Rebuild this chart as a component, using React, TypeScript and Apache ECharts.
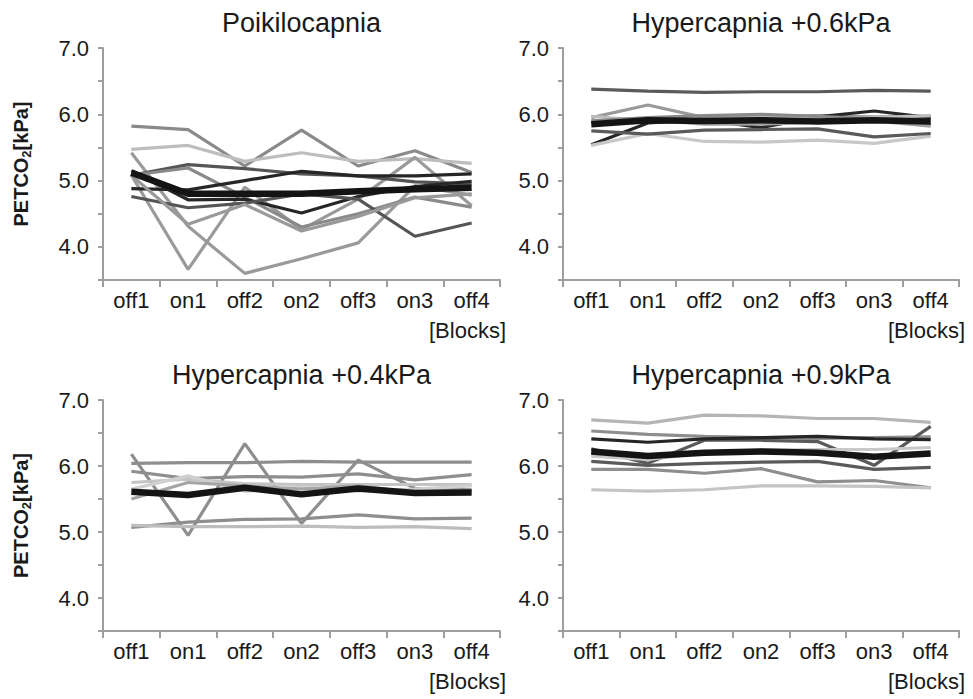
import React, { useEffect, useRef } from "react";
import * as echarts from "echarts";

const categories = ["off1", "on1", "off2", "on2", "off3", "on3", "off4"];
const yTickLabels = ["4.0", "5.0", "6.0", "7.0"];
const panelTitles = ["Poikilocapnia", "Hypercapnia +0.6kPa", "Hypercapnia +0.4kPa", "Hypercapnia +0.9kPa"];
const yAxisName = "PETCO{sub|2}[kPa]";
const xAxisName = "[Blocks]";

// Panel 1: Poikilocapnia
const poikiloSubjects = [
  [5.82, 5.77, 5.22, 5.76, 5.22, 5.45, 5.12],
  [5.47, 5.53, 5.29, 5.42, 5.29, 5.33, 5.26],
  [5.42, 4.31, 3.6, 3.82, 4.06, 4.92, 4.78],
  [5.08, 3.66, 4.9, 4.26, 4.72, 5.35, 4.62],
  [5.08, 5.24, 5.18, 5.1, 5.07, 4.98, 4.95],
  [5.08, 5.19, 4.75, 4.3, 4.5, 4.75, 4.6],
  [4.88, 4.86, 5.0, 5.14, 5.07, 5.07, 5.1],
  [5.15, 4.71, 4.72, 4.51, 4.76, 4.91, 4.99],
  [4.76, 4.59, 4.66, 4.8, 4.72, 4.16, 4.36],
  [5.08, 4.34, 4.64, 4.24, 4.46, 4.74, 4.8],
];
const poikiloMean = [5.12, 4.8, 4.8, 4.8, 4.84, 4.87, 4.89];

// Panel 2: Hypercapnia +0.6kPa
const hyper06Subjects = [
  [6.38, 6.35, 6.33, 6.34, 6.34, 6.36, 6.35],
  [5.95, 6.14, 5.95, 5.97, 5.98, 5.96, 5.97],
  [5.54, 5.87, 5.92, 5.8, 5.96, 6.05, 5.95],
  [5.53, 5.71, 5.59, 5.58, 5.61, 5.56, 5.67],
  [5.75, 5.7, 5.76, 5.77, 5.78, 5.66, 5.71],
  [5.97, 5.9, 5.92, 5.95, 5.93, 5.95, 5.98],
  [5.9, 5.95, 5.98, 6.0, 5.97, 5.93, 5.85],
  [5.88, 5.92, 5.85, 5.85, 5.88, 5.9, 5.82],
];
const hyper06Mean = [5.85, 5.91, 5.9, 5.91, 5.89, 5.91, 5.89];

// Panel 3: Hypercapnia +0.4kPa
const hyper04Subjects = [
  [6.18, 4.95, 6.34, 5.13, 6.09, 5.66, 5.64],
  [6.04, 6.05, 6.05, 6.07, 6.06, 6.06, 6.06],
  [5.92, 5.81, 5.84, 5.83, 5.88, 5.79, 5.87],
  [5.75, 5.8, 5.73, 5.72, 5.72, 5.72, 5.72],
  [5.65, 5.85, 5.62, 5.68, 5.62, 5.65, 5.7],
  [5.5, 5.75, 5.7, 5.65, 5.7, 5.6, 5.62],
  [5.07, 5.15, 5.19, 5.2, 5.26, 5.2, 5.21],
  [5.1, 5.08, 5.08, 5.09, 5.07, 5.08, 5.05],
];
const hyper04Mean = [5.61, 5.56, 5.67, 5.57, 5.66, 5.59, 5.6];

// Panel 4: Hypercapnia +0.9kPa
const hyper09Subjects = [
  [6.7, 6.65, 6.77, 6.76, 6.72, 6.72, 6.66],
  [6.53, 6.48, 6.45, 6.43, 6.42, 6.43, 6.44],
  [6.26, 6.04, 6.39, 6.39, 6.37, 6.01, 6.6],
  [6.41, 6.36, 6.41, 6.43, 6.45, 6.41, 6.4],
  [6.15, 6.1, 6.2, 6.24, 6.25, 6.25, 6.28],
  [6.07, 6.01, 6.04, 6.06, 6.07, 5.95, 5.98],
  [5.95, 5.95, 5.89, 5.96, 5.76, 5.78, 5.67],
  [5.64, 5.62, 5.64, 5.7, 5.7, 5.69, 5.67],
];
const hyper09Mean = [6.22, 6.15, 6.2, 6.22, 6.2, 6.14, 6.19];

const panelSubjects = [poikiloSubjects, hyper06Subjects, hyper04Subjects, hyper09Subjects];
const panelMeans = [poikiloMean, hyper06Mean, hyper04Mean, hyper09Mean];

const subjectColors = [
  ["#8a8a8a", "#bdbdbd", "#9a9a9a", "#9a9a9a", "#555555", "#8a8a8a", "#262626", "#262626", "#555555", "#9a9a9a"],
  ["#5a5a5a", "#9a9a9a", "#262626", "#c8c8c8", "#5a5a5a", "#bdbdbd", "#8a8a8a", "#a0a0a0"],
  ["#8e8e8e", "#8e8e8e", "#8e8e8e", "#c4c4c4", "#d0d0d0", "#a5a5a5", "#8e8e8e", "#bdbdbd"],
  ["#b5b5b5", "#8e8e8e", "#5a5a5a", "#262626", "#c8c8c8", "#5a5a5a", "#8e8e8e", "#c4c4c4"],
];

const FONT = "'Liberation Sans', Arial, Helvetica, sans-serif";
const AXIS_COLOR = "#9e9e9e";
const TEXT_COLOR = "#1a1a1a";

const grids = [
  { left: 103, top: 48, width: 397, height: 232 },
  { left: 563, top: 48, width: 396, height: 232 },
  { left: 103, top: 400, width: 397, height: 231 },
  { left: 563, top: 400, width: 396, height: 231 },
];

export default function App() {
  const ref = useRef<HTMLDivElement>(null);

  useEffect(() => {
    if (!ref.current) return;
    const chart = echarts.init(ref.current, undefined, { renderer: "svg" });

    const series: any[] = [];
    panelSubjects.forEach((subs, p) => {
      subs.forEach((data, i) => {
        series.push({
          type: "line",
          xAxisIndex: p,
          yAxisIndex: p,
          data,
          symbol: "none",
          silent: true,
          lineStyle: { color: subjectColors[p][i], width: 3.2 },
          z: 2,
        });
      });
      series.push({
        type: "line",
        xAxisIndex: p,
        yAxisIndex: p,
        data: panelMeans[p],
        symbol: "none",
        silent: true,
        lineStyle: { color: "#141414", width: 6.5 },
        z: 3,
      });
    });

    const graphic: any[] = [];
    grids.forEach((g, p) => {
      graphic.push({
        type: "text",
        x: g.left + g.width / 2,
        y: g.top - 25,
        style: {
          text: panelTitles[p],
          font: `27px ${FONT}`,
          fill: TEXT_COLOR,
          align: "center",
          verticalAlign: "middle",
        },
      });
      graphic.push({
        type: "text",
        x: g.left + g.width + 6,
        y: g.top + g.height + 50,
        style: {
          text: xAxisName,
          font: `22px ${FONT}`,
          fill: TEXT_COLOR,
          align: "right",
          verticalAlign: "middle",
        },
      });
    });

    const option: any = {
      animation: false,
      grid: grids.map((g) => ({ ...g, outerBoundsMode: "none" })),
      xAxis: grids.map((_, p) => ({
        type: "category",
        gridIndex: p,
        data: categories,
        boundaryGap: true,
        axisLine: { lineStyle: { color: AXIS_COLOR, width: 2 } },
        axisTick: { show: true, length: 7, lineStyle: { color: AXIS_COLOR, width: 2 } },
        axisLabel: { color: TEXT_COLOR, fontSize: 22, fontFamily: FONT, margin: 9, interval: 0 },
        splitLine: { show: false },
      })),
      yAxis: grids.map((_, p) => ({
        type: "value",
        gridIndex: p,
        min: 3.5,
        max: 7.0,
        interval: 0.5,
        name: p % 2 === 0 ? yAxisName : "",
        nameLocation: "middle",
        nameGap: 70,
        nameRotate: 90,
        nameTextStyle: {
          color: TEXT_COLOR,
          fontSize: 20,
          fontWeight: "bold",
          fontFamily: FONT,
          lineHeight: 24,
          rich: {
            sub: { fontSize: 13, fontWeight: "bold", fontFamily: FONT, color: TEXT_COLOR, lineHeight: 10, verticalAlign: "bottom" },
          },
        },
        axisLine: { show: true, lineStyle: { color: AXIS_COLOR, width: 2 } },
        axisTick: { show: true, length: 5, lineStyle: { color: AXIS_COLOR, width: 2 } },
        axisLabel: {
          color: TEXT_COLOR,
          fontSize: 22,
          fontFamily: FONT,
          margin: 14,
          formatter: (v: number) => {
            const s = v.toFixed(1);
            return yTickLabels.includes(s) ? s : "";
          },
        },
        splitLine: { show: false },
      })),
      series,
      graphic,
    };

    chart.setOption(option);
    return () => chart.dispose();
  }, []);

  return (
    <div
      ref={ref}
      style={{ position: "fixed", left: 0, top: 0, width: 973, height: 699, background: "#fff" }}
    />
  );
}
